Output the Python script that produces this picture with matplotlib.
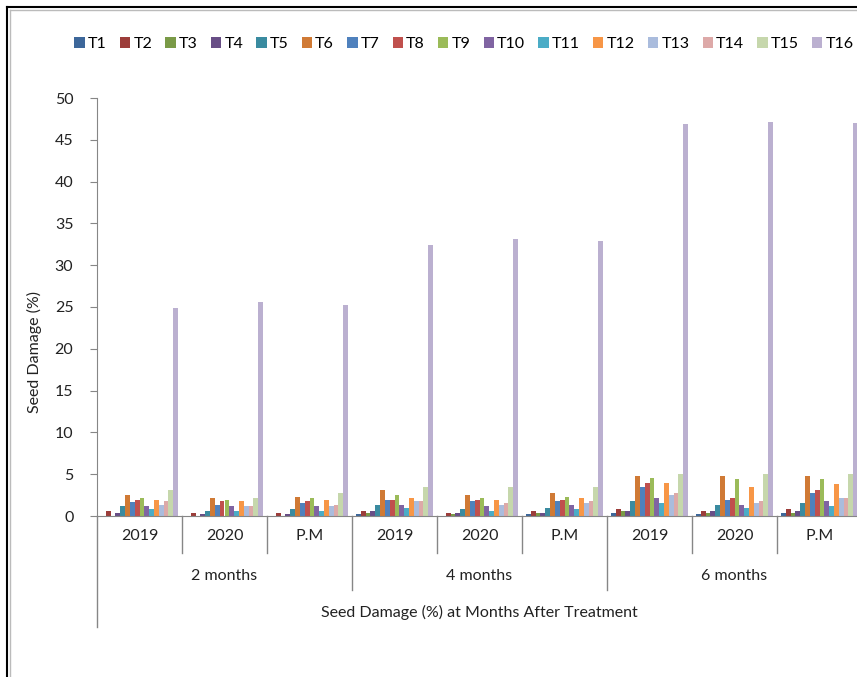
import numpy as np
import matplotlib
matplotlib.use("Agg")
from matplotlib import pyplot as plt
from matplotlib.lines import Line2D

plt.rcParams["font.family"] = ["Lato", "DejaVu Sans"]

# categories (3 levels)
years = ["2019", "2020", "P.M"] * 3
months = ["2 months", "4 months", "6 months"]
title_level = "Seed Damage (%) at Months After Treatment"

treatments = ["T%d" % i for i in range(1, 17)]

# values, one list per treatment (9 categories each)
T1 = [0.0, 0.0, 0.0, 0.2, 0.0, 0.2, 0.4, 0.2, 0.4]
T2 = [0.6, 0.4, 0.4, 0.6, 0.4, 0.6, 0.8, 0.6, 0.8]
T3 = [0.0, 0.0, 0.0, 0.4, 0.2, 0.4, 0.6, 0.4, 0.4]
T4 = [0.4, 0.2, 0.2, 0.6, 0.4, 0.4, 0.6, 0.6, 0.6]
T5 = [1.2, 0.6, 0.8, 1.35, 0.8, 1.0, 1.75, 1.35, 1.55]
T6 = [2.5, 2.1, 2.3, 3.1, 2.5, 2.7, 4.8, 4.8, 4.8]
T7 = [1.7, 1.35, 1.55, 1.95, 1.75, 1.75, 3.45, 1.95, 2.7]
T8 = [1.95, 1.75, 1.75, 1.95, 1.95, 1.95, 4.0, 2.1, 3.1]
T9 = [2.1, 1.95, 2.1, 2.5, 2.1, 2.3, 4.6, 4.4, 4.4]
T10 = [1.2, 1.2, 1.2, 1.35, 1.2, 1.35, 2.1, 1.35, 1.75]
T11 = [0.8, 0.6, 0.6, 1.0, 0.6, 0.8, 1.55, 1.0, 1.2]
T12 = [1.95, 1.75, 1.95, 2.1, 1.95, 2.1, 4.0, 3.5, 3.8]
T13 = [1.35, 1.2, 1.2, 1.75, 1.35, 1.55, 2.5, 1.55, 2.1]
T14 = [1.75, 1.2, 1.35, 1.75, 1.55, 1.75, 2.7, 1.75, 2.1]
T15 = [3.1, 2.1, 2.7, 3.45, 3.45, 3.45, 5.0, 5.0, 5.0]
T16 = [24.9, 25.6, 25.2, 32.4, 33.1, 32.9, 46.9, 47.1, 47.0]
series = [T1, T2, T3, T4, T5, T6, T7, T8, T9, T10, T11, T12, T13, T14, T15, T16]

colors = ["#3D679A", "#9C3D3A", "#7A9A47", "#684E86", "#3A8BA0", "#D07A35",
          "#4F81BD", "#C0504D", "#9BBB59", "#8064A2", "#4BACC6", "#F79646",
          "#AABCDD", "#DDA9A8", "#C6D7AC", "#BBB0D0"]

W, H = 857, 677
fig = plt.figure(figsize=(W / 100, H / 100), dpi=100)
ax = fig.add_axes([97 / W, 1 - 516 / H, 765 / W, 418 / H])

x = np.arange(len(years))
bw = 0.906 / len(series)
for i, vals in enumerate(series):
    ax.bar(x + (i - 7.5) * bw, vals, width=bw, color=colors[i],
           label=treatments[i], linewidth=0)

gray = "#868686"
ax.set_xlim(-0.5, len(years) - 0.5)
ax.set_ylim(0, 50)
ax.set_yticks(range(0, 51, 5))
ax.tick_params(axis="y", direction="out", length=5, color=gray, pad=12,
               labelsize=11.5, labelcolor="#222222")
ax.set_xticks([])
for s in ["top", "right"]:
    ax.spines[s].set_visible(False)
ax.spines["left"].set_color(gray)
ax.spines["bottom"].set_color(gray)

# multi-level category labels
tr = ax.get_xaxis_transform()
for i, y in enumerate(years):
    ax.text(i, -0.048, y, transform=tr, ha="center", va="center", fontsize=11.5,
            color="#222222")
for j, m in enumerate(months):
    ax.text(3 * j + 1, -0.1435, m, transform=tr, ha="center", va="center",
            fontsize=11.5, color="#222222")
ax.text(4, -0.2297, title_level, transform=tr, ha="center", va="center",
        fontsize=11.5, color="#222222")

for k in range(len(years) + 1):
    b = k - 0.5
    if k == 0 or k == len(years):
        depth = -0.2656
    elif k % 3 == 0:
        depth = -0.177
    else:
        depth = -0.0885
    ax.plot([b, b], [0, depth], transform=tr, color=gray, lw=1, clip_on=False)

ax.set_ylabel("Seed Damage (%)", fontsize=11.5, color="#222222")
ax.yaxis.set_label_coords(-0.0719, 0.392)

fig.legend(loc="center", bbox_to_anchor=(464 / W, 1 - 44 / H), ncol=16,
           frameon=False, fontsize=11.5, handlelength=0.65, handleheight=0.65,
           handletextpad=0.2, columnspacing=0.82, borderaxespad=0)

# outer chart border (cropped at right and bottom)
fig.add_artist(Line2D([7 / W, 1.0], [1 - 7 / H, 1 - 7 / H], color="black", lw=1.5))
fig.add_artist(Line2D([7 / W, 7 / W], [0.0, 1 - 7 / H], color="black", lw=1.5))
fig.add_artist(Line2D([9.5 / W, 1.0], [1 - 9.5 / H, 1 - 9.5 / H], color="#BBBBBB", lw=1))
fig.add_artist(Line2D([9.5 / W, 9.5 / W], [0.0, 1 - 9.5 / H], color="#BBBBBB", lw=1))

fig.savefig("out.png", dpi=100)
